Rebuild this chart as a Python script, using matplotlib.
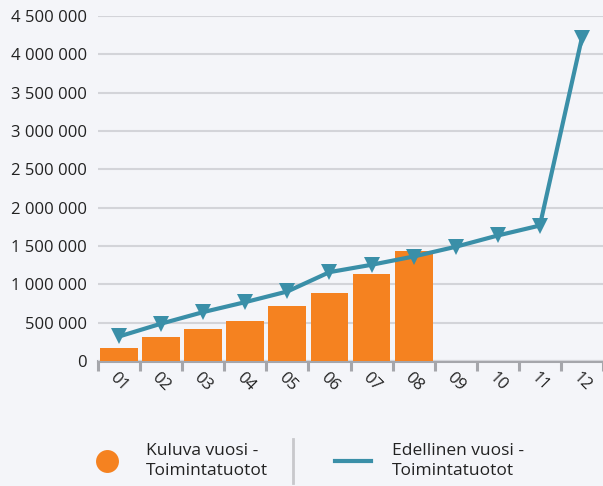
import numpy as np
import matplotlib.pyplot as plt
from matplotlib.lines import Line2D

# Data
months = ['01', '02', '03', '04', '05', '06', '07', '08', '09', '10', '11', '12']
current_year = [173000, 317000, 421000, 526000, 713000, 891000, 1131000, 1439000]
previous_year = [320000, 487000, 638000, 768000, 907000, 1159000, 1255000, 1363000,
                 1490000, 1637000, 1767000, 4219000]
y_ticks = [0, 500000, 1000000, 1500000, 2000000, 2500000, 3000000, 3500000, 4000000, 4500000]

orange = '#f58220'
teal = '#3a8fa8'
bg = '#f4f5f9'
txt = '#222222'

plt.rcParams['font.family'] = ['Open Sans', 'DejaVu Sans']

W, H = 603, 486
fig = plt.figure(figsize=(W / 100, H / 100), dpi=100, facecolor=bg)
ax = fig.add_axes([98 / W, 1 - 361 / H, 1 - 98 / W, (361 - 16) / H])
ax.set_facecolor(bg)

x = np.arange(len(months))
ax.bar(x[:len(current_year)], current_year, width=0.9, color=orange, zorder=2)
ax.plot(x, previous_year, color=teal, lw=3, marker='v', markersize=11.5,
        markeredgewidth=0, zorder=3, clip_on=False)

ax.set_xlim(-0.5, len(months) - 0.5)
ax.set_ylim(0, 4500000)
ax.set_yticks(y_ticks)
ax.set_yticklabels([f"{v:,}".replace(',', ' ') for v in y_ticks])
ax.grid(axis='y', color='#d3d4d9', lw=1.5, zorder=0)
ax.tick_params(axis='y', length=0, pad=8, labelsize=12, labelcolor=txt)

ax.set_xticks(x)
ax.set_xticklabels(months, rotation=-45, ha='center', va='center', rotation_mode='anchor',
                   fontsize=12, color=txt)
ax.tick_params(axis='x', length=0, pad=15)
ax.set_xticks(np.arange(len(months) + 1) - 0.5, minor=True)
ax.tick_params(axis='x', which='minor', length=7.5, width=2.2, color='#a5a6ab')

for s in ['top', 'right', 'left']:
    ax.spines[s].set_visible(False)
ax.spines['bottom'].set_color('#a5a6ab')
ax.spines['bottom'].set_linewidth(2.2)
ax.spines['bottom'].set_zorder(1)

# Legend drawn manually
ly = 1 - 461 / H
fig.add_artist(Line2D([107 / W], [ly], marker='o', markersize=16.5,
                      color=orange, markeredgewidth=0))
fig.text(146 / W, ly, 'Kuluva vuosi -\nToimintatuotot', fontsize=12.5,
         va='center', ha='left', color=txt, linespacing=1.35)
fig.add_artist(Line2D([292.5 / W, 292.5 / W], [1 - 439 / H, 1 - 483 / H],
                      color='#c8c8cc', lw=2))
fig.add_artist(Line2D([335 / W, 371 / W], [ly, ly], color=teal, lw=3))
fig.text(392 / W, ly, 'Edellinen vuosi -\nToimintatuotot', fontsize=12.5,
         va='center', ha='left', color=txt, linespacing=1.35)

fig.savefig('out.png', dpi=100, facecolor=bg)
